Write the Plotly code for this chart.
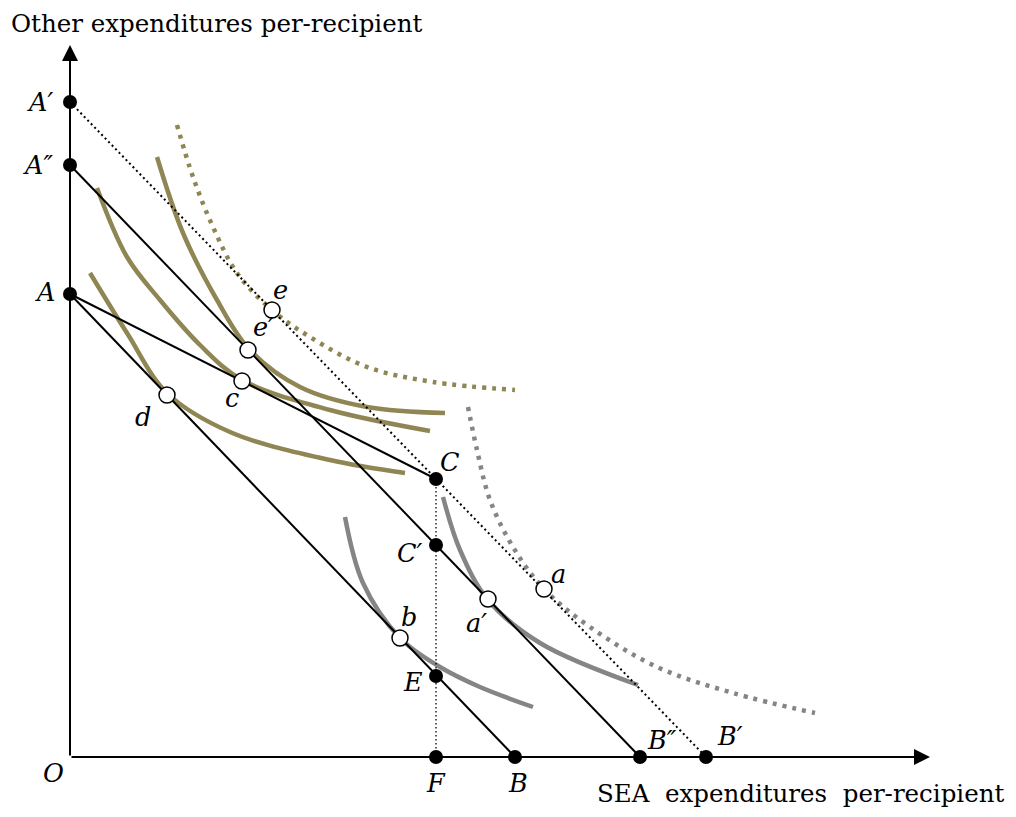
import plotly.graph_objects as go

# ---------------- data (units along each axis) ----------------
# budget-line / axis points (filled markers)
pt_names = ["A′", "A″", "A", "B", "B″", "B′", "F", "C", "C′", "E"]
pt_x = [0, 0, 0, 445, 570, 636, 366, 366, 366, 366]
pt_y = [655, 592, 463, 0, 0, 0, 0, 278, 212, 81]

# tangency points (open markers)
tan_names = ["e", "e′", "c", "d", "a", "a′", "b"]
tan_x = [202, 178, 172, 97, 474, 418, 330]
tan_y = [447, 407, 376, 362, 168, 158, 119]

# indifference curves
ic_d_x = [20, 57, 97, 160, 260, 335]
ic_d_y = [484, 424, 364, 325, 297, 284]
ic_c_x = [27, 57, 90, 130, 172, 260, 360]
ic_c_y = [569, 500, 457, 412, 377, 347, 326]
ic_e1_x = [87, 113, 147, 179, 230, 297, 375]
ic_e1_y = [600, 524, 457, 408, 370, 350, 344]
ic_e_x = [107, 123, 143, 167, 202, 240, 297, 363, 445]
ic_e_y = [632, 580, 530, 484, 447, 420, 390, 375, 367]
ic_b_x = [275, 293, 330, 370, 410, 463]
ic_b_y = [240, 174, 119, 90, 70, 50]
ic_a1_x = [373, 390, 418, 470, 568]
ic_a1_y = [260, 207, 157, 114, 72]
ic_a_x = [398, 407, 420, 443, 474, 520, 587, 663, 745]
ic_a_y = [350, 307, 257, 210, 168, 130, 90, 64, 44]

# budget lines between named points
segments = [("A", "B", "solid"), ("A", "C", "solid"), ("A″", "B″", "solid"),
            ("A′", "B′", "dots"), ("C", "F", "fine")]

axis_x_end = 860
axis_y_end = 712
x_title = "SEA  expenditures  per-recipient"
y_title = "Other expenditures per-recipient"

# ---------------- styles ----------------
OLIVE = "#8F8654"
GRAY = "#858585"
FONT = "DejaVu Serif"
FS_T = 24.5
FS_L = 25.5

fig = go.Figure()

def curve(xs, ys, color, width, dash="solid"):
    fig.add_trace(go.Scatter(x=xs, y=ys, mode="lines",
                             line=dict(color=color, width=width, dash=dash,
                                       shape="spline", smoothing=1.0),
                             hoverinfo="skip"))

curve(ic_d_x, ic_d_y, OLIVE, 4.5)
curve(ic_c_x, ic_c_y, OLIVE, 4.5)
curve(ic_e1_x, ic_e1_y, OLIVE, 4.5)
curve(ic_e_x, ic_e_y, OLIVE, 4.5, "4px,6px")
curve(ic_b_x, ic_b_y, GRAY, 4.5)
curve(ic_a1_x, ic_a1_y, GRAY, 4.5)
curve(ic_a_x, ic_a_y, GRAY, 4.5, "4px,6px")

idx = {n: i for i, n in enumerate(pt_names)}
for p, q, sty in segments:
    xs = [pt_x[idx[p]], pt_x[idx[q]]]
    ys = [pt_y[idx[p]], pt_y[idx[q]]]
    if sty == "solid":
        ln = dict(color="black", width=2)
    elif sty == "dots":
        ln = dict(color="black", width=2, dash="2px,3px")
    else:
        ln = dict(color="black", width=1.3, dash="1.5px,2.5px")
    fig.add_trace(go.Scatter(x=xs, y=ys, mode="lines", line=ln, hoverinfo="skip"))

# axes with arrowheads
fig.add_annotation(x=0, y=axis_y_end, ax=0, ay=0, xref="x", yref="y", axref="x", ayref="y",
                   text="", showarrow=True, arrowhead=2, arrowsize=1.6, arrowwidth=2,
                   arrowcolor="black")
fig.add_annotation(x=axis_x_end, y=0, ax=0, ay=0, xref="x", yref="y", axref="x", ayref="y",
                   text="", showarrow=True, arrowhead=2, arrowsize=1.6, arrowwidth=2,
                   arrowcolor="black")

fig.add_trace(go.Scatter(x=pt_x, y=pt_y, mode="markers",
                         marker=dict(color="black", size=14), hoverinfo="skip"))
fig.add_trace(go.Scatter(x=tan_x, y=tan_y, mode="markers",
                         marker=dict(color="white", size=16, line=dict(color="black", width=1.5)),
                         hoverinfo="skip"))

# labels (offsets in pixels relative to the point)
pt_off = {"A′": (-30, 0), "A″": (-32, 0), "A": (-25, 2), "B": (3, -26), "B″": (22, 17),
          "B′": (24, 21), "F": (0, -26), "C": (14, 17), "C′": (-26, -8), "E": (-23, -6)}
tan_off = {"e": (8, 20), "e′": (15, 23), "c": (-10, -17), "d": (-24, -22),
           "a": (14, 15), "a′": (-12, -24), "b": (9, 21)}

for n, x, y in zip(pt_names, pt_x, pt_y):
    dx, dy = pt_off[n]
    fig.add_annotation(x=x + dx, y=y + dy, text="<i>%s</i>" % n, showarrow=False,
                       font=dict(family=FONT, size=FS_L, color="black"))
for n, x, y in zip(tan_names, tan_x, tan_y):
    dx, dy = tan_off[n]
    fig.add_annotation(x=x + dx, y=y + dy, text="<i>%s</i>" % n, showarrow=False,
                       font=dict(family=FONT, size=FS_L, color="black"))
fig.add_annotation(x=-17, y=-16, text="<i>O</i>", showarrow=False,
                   font=dict(family=FONT, size=FS_L, color="black"))

fig.add_annotation(x=-60, y=749, text=y_title, showarrow=False, xanchor="left",
                   yanchor="top", borderpad=0,
                   font=dict(family=FONT, size=FS_T, color="black"))
fig.add_annotation(x=935, y=-52, text=x_title, showarrow=False, borderpad=0,
                   xanchor="right", yanchor="bottom",
                   font=dict(family=FONT, size=FS_T, color="black"))

# page body has an 8px margin: shift the ranges so the picture lands in place
fig.update_layout(width=1000, height=801, margin=dict(l=0, r=0, t=0, b=0),
                  paper_bgcolor="white", plot_bgcolor="white", showlegend=False,
                  xaxis=dict(range=[-62, 938], visible=False, fixedrange=True),
                  yaxis=dict(range=[-52, 749], visible=False, fixedrange=True))

fig.write_html("out.html")
